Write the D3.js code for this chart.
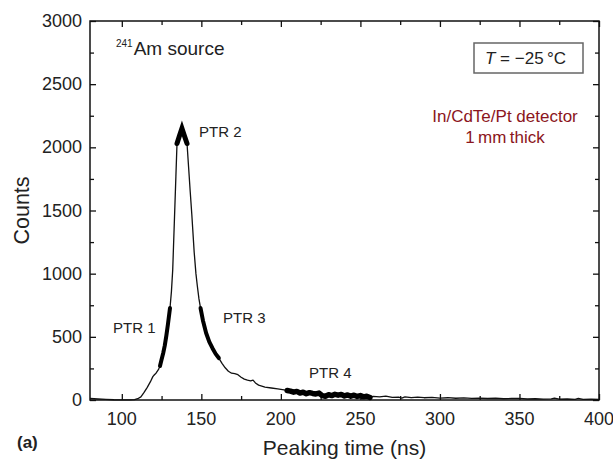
<!DOCTYPE html>
<html>
<head>
<meta charset="utf-8">
<script src="https://cdn.jsdelivr.net/npm/d3@7"></script>
<style>
  body { margin: 0; background: #fff; }
  text { font-family: "Liberation Sans", Arial, Helvetica, sans-serif; }
</style>
</head>
<body>
<script>
'use strict';

const width = 613;
const height = 460;

// peaking time (ns) and counts
const times = [80, 85, 90, 95, 100, 105, 108, 110, 112, 114, 116, 118, 119.5, 120.5, 121.5, 123, 124, 125, 126, 127, 128, 129,
  130.3, 131.2, 132, 133, 134, 134.7, 136.2, 137.8, 139.4, 141, 142, 143, 144, 144.6, 145.5, 146.6, 147.5, 148.5,
  149.5, 151, 153, 155, 157, 159, 161, 163, 165, 167, 169, 171, 173, 175, 177, 179, 181, 182.5, 184, 186, 188, 190, 194, 198, 202,
  204, 206, 208, 210, 212, 214, 216, 218, 220, 222, 224, 226, 228, 230, 232, 234, 236, 238, 240, 242, 244, 246, 248, 250, 252, 254, 256, 258,
  262, 266, 270, 274, 276, 278, 282, 286, 290, 295, 300, 305, 310, 315, 320, 325, 330, 335, 340, 345, 350, 355, 360, 365, 370, 372, 375, 380, 385, 387, 390, 395, 400];
const counts = [12, 8, 5, 2, 1, 1, 3, 10, 25, 60, 100, 145, 185, 200, 212, 240, 270, 320, 370, 430, 510, 600,
  728, 860, 1030, 1400, 1770, 2030, 2090, 2150, 2090, 2030, 1840, 1650, 1470, 1350, 1170, 1000, 900, 800,
  728, 630, 530, 460, 410, 365, 332, 290, 255, 228, 212, 208, 200, 180, 165, 158, 152, 158, 135, 118, 110, 102, 95, 88, 80,
  75, 70, 62, 68, 55, 62, 50, 58, 52, 48, 55, 35, 30, 42, 35, 45, 38, 44, 32, 40, 30, 38, 28, 35, 25, 30, 20, 28,
  25, 30, 20, 22, 15, 25, 18, 22, 18, 20, 15, 18, 14, 17, 13, 15, 12, 14, 10, 12, 13, 8, 10, 7, 9, 15, 6, 8, 5, 12, 5, 6, 4];

// highlighted peaking time regions
const ptrNames = ["PTR 1", "PTR 2", "PTR 3", "PTR 4"];
const ptrRanges = [[124, 130.3], [134.7, 141], [149.5, 161], [204, 257]];
const ptrWidths = [4, 5, 4, 5.5];

const xTicks = [100, 150, 200, 250, 300, 350, 400];
const yTicks = [0, 500, 1000, 1500, 2000, 2500, 3000];

const data = times.map((t, i) => ({ t: t, c: counts[i] }));

const margin = { top: 21, right: 14, bottom: 60, left: 90 };

const svg = d3.select("body")
    .append("svg")
    .attr("width", width)
    .attr("height", height);

const x = d3.scaleLinear().domain([80, 400]).range([margin.left, width - margin.right]);
const y = d3.scaleLinear().domain([0, 3000]).range([height - margin.bottom, margin.top]);

const x0 = x.range()[0], x1 = x.range()[1];
const y0 = y.range()[0], y1 = y.range()[1];

// minor ticks
const xMinor = d3.range(100, 400, 25).filter(v => !xTicks.includes(v));
const yMinor = d3.range(250, 3000, 500);

function tickAxis(axis, scale, values, size, tx, ty) {
    const g = svg.append("g")
        .attr("transform", "translate(" + tx + "," + ty + ")")
        .call(axis(scale).tickValues(values).tickSize(size).tickFormat(""));
    g.select(".domain").remove();
    g.selectAll("line").attr("stroke", "#111").attr("stroke-width", 1.3);
    return g;
}

// ticks point inward on all four sides
tickAxis(d3.axisTop, x, xTicks, 6, 0, y0);
tickAxis(d3.axisTop, x, xMinor, 4, 0, y0);
tickAxis(d3.axisBottom, x, xTicks, 6, 0, y1);
tickAxis(d3.axisBottom, x, xMinor, 4, 0, y1);
tickAxis(d3.axisRight, y, yTicks, 6, x0, 0);
tickAxis(d3.axisRight, y, yMinor, 4, x0, 0);
tickAxis(d3.axisLeft, y, yTicks, 6, x1, 0);
tickAxis(d3.axisLeft, y, yMinor, 4, x1, 0);

// tick labels
svg.append("g").selectAll("text")
    .data(xTicks)
    .enter()
    .append("text")
    .attr("x", d => x(d))
    .attr("y", y0 + 25)
    .attr("text-anchor", "middle")
    .attr("font-size", 18)
    .attr("fill", "#222")
    .text(d => d);

svg.append("g").selectAll("text")
    .data(yTicks)
    .enter()
    .append("text")
    .attr("x", x0 - 8)
    .attr("y", d => y(d) + 6)
    .attr("text-anchor", "end")
    .attr("font-size", 18)
    .attr("fill", "#222")
    .text(d => d);

// frame
svg.append("rect")
    .attr("x", x0)
    .attr("y", y1)
    .attr("width", x1 - x0)
    .attr("height", y0 - y1)
    .attr("fill", "none")
    .attr("stroke", "#111")
    .attr("stroke-width", 1.5);

let line = d3.line()
    .x(d => x(d.t))
    .y(d => y(d.c));

svg.append("path")
    .attr("d", line(data))
    .attr("fill", "none")
    .attr("stroke", "#111")
    .attr("stroke-width", 1.3)
    .attr("stroke-linejoin", "round");

// thick PTR segments
ptrRanges.forEach((r, i) => {
    let seg = data.filter(d => d.t >= r[0] && d.t <= r[1]);
    svg.append("path")
        .attr("d", line(seg))
        .attr("fill", "none")
        .attr("stroke", "#000")
        .attr("stroke-width", ptrWidths[i])
        .attr("stroke-linejoin", i === 1 ? "miter" : "round")
        .attr("stroke-miterlimit", 10)
        .attr("stroke-linecap", "round");
});

// PTR labels
const ptrLabelX = [113, 199, 223, 309];
const ptrLabelY = [333, 137, 323, 378];
svg.append("g").selectAll("text")
    .data(ptrNames)
    .enter()
    .append("text")
    .attr("x", (d, i) => ptrLabelX[i])
    .attr("y", (d, i) => ptrLabelY[i])
    .attr("font-size", 15)
    .attr("fill", "#222")
    .text(d => d);

// source label
let src = svg.append("text")
    .attr("x", 116)
    .attr("y", 55)
    .attr("font-size", 19)
    .attr("fill", "#222");
src.append("tspan").attr("font-size", 10).attr("dy", -8).text("241");
src.append("tspan").attr("dy", 8).attr("dx", 1).text("Am source");

// temperature box
svg.append("rect")
    .attr("x", 474)
    .attr("y", 43)
    .attr("width", 109)
    .attr("height", 30)
    .attr("fill", "#fff")
    .attr("stroke", "#666")
    .attr("stroke-width", 1.5);

let temp = svg.append("text")
    .attr("x", 485)
    .attr("y", 64)
    .attr("font-size", 17)
    .attr("fill", "#222");
temp.append("tspan").attr("font-style", "italic").text("T");
temp.append("tspan").text(" = \u221225\u2009\u00b0C");

// detector label
svg.append("text")
    .attr("x", 505)
    .attr("y", 122)
    .attr("text-anchor", "middle")
    .attr("font-size", 17)
    .attr("fill", "#8b1520")
    .text("In/CdTe/Pt detector");
svg.append("text")
    .attr("x", 505)
    .attr("y", 143)
    .attr("text-anchor", "middle")
    .attr("font-size", 17)
    .attr("fill", "#8b1520")
    .text("1\u2009mm\u2009thick");

// axis titles
svg.append("text")
    .attr("x", (x0 + x1) / 2)
    .attr("y", 455)
    .attr("text-anchor", "middle")
    .attr("font-size", 21)
    .attr("fill", "#222")
    .text("Peaking time (ns)");

svg.append("text")
    .attr("transform", "translate(29," + ((y0 + y1) / 2) + ") rotate(-90)")
    .attr("text-anchor", "middle")
    .attr("font-size", 21.5)
    .attr("fill", "#222")
    .text("Counts");

svg.append("text")
    .attr("x", 17)
    .attr("y", 448)
    .attr("font-size", 17)
    .attr("font-weight", "bold")
    .attr("fill", "#222")
    .text("(a)");
</script>
</body>
</html>
